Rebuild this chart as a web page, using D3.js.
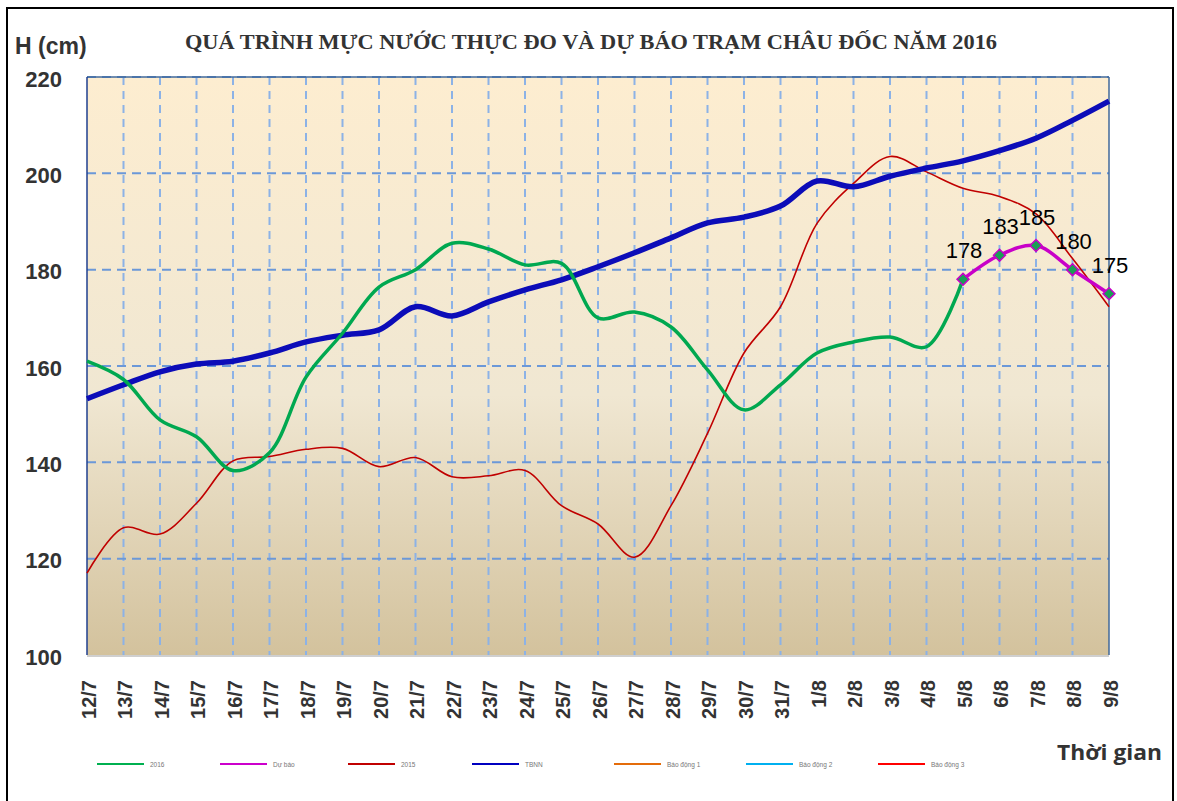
<!DOCTYPE html>
<html>
<head>
<meta charset="utf-8">
<script src="https://cdn.jsdelivr.net/npm/d3@7"></script>
<style>
  body { margin: 0; background: #fff; }
  svg { display: block; }
</style>
</head>
<body>
<div id="chart"></div>
<script>
// chart values
const days = ["12/7","13/7","14/7","15/7","16/7","17/7","18/7","19/7","20/7","21/7","22/7","23/7","24/7","25/7",
  "26/7","27/7","28/7","29/7","30/7","31/7","1/8","2/8","3/8","4/8","5/8","6/8","7/8","8/8","9/8"];

const level2016 = [161, 157.2, 148.8, 145.3, 138.3, 142, 157.7, 166.8, 176.4, 180, 185.5, 184.3, 181, 181.3,
  170, 171.2, 168.1, 159.2, 150.9, 156.1, 162.7, 165, 166, 164, 178];

const forecast = [178, 183, 185, 180, 175];   // 5/8 -> 9/8

const level2015 = [117, 126.4, 125.1, 131.5, 140.3, 141.2, 142.7, 142.9, 139.1, 141, 137, 137.2, 138.3, 131,
  127.2, 120.3, 131, 146, 162.7, 172.3, 189.6, 197.9, 203.5, 200.3, 196.9, 195.2, 191.6, 182.3, 172.3];

const tbnn = [153.2, 156.1, 158.8, 160.4, 161, 162.7, 165, 166.4, 167.5, 172.3, 170.4, 173.3, 175.8, 177.9,
  180.6, 183.5, 186.6, 189.7, 190.9, 193.2, 198.4, 197.2, 199.4, 201.1, 202.6, 204.7, 207.3, 211, 215];

const yTicks = [100, 120, 140, 160, 180, 200, 220];

const legendNames = ["2016", "Dự báo", "2015", "TBNN", "Báo động 1", "Báo động 2", "Báo động 3"];
const legendColors = ["#00b050", "#cc00cc", "#c00000", "#0000c0", "#e46c0a", "#00b0f0", "#ff0000"];

const W = 1177, H = 801;
const plot = { left: 87, right: 1109, top: 77, bottom: 655 };

const svg = d3.select("#chart").append("svg")
  .attr("width", W).attr("height", H);

// outer frame (no bottom edge, like the picture)
svg.append("path")
  .attr("d", `M7,801 V8 H1173 V801`)
  .attr("fill", "none").attr("stroke", "#000").attr("stroke-width", 2);

const x = d3.scalePoint().domain(days).range([plot.left, plot.right]);
const y = d3.scaleLinear().domain([100, 220]).range([plot.bottom, plot.top]);

// plot background gradient
const defs = svg.append("defs");
const grad = defs.append("linearGradient").attr("id", "bg")
  .attr("x1", 0).attr("y1", 0).attr("x2", 0).attr("y2", 1);
grad.append("stop").attr("offset", "0%").attr("stop-color", "#fdedd0");
grad.append("stop").attr("offset", "55%").attr("stop-color", "#f0e7d2");
grad.append("stop").attr("offset", "100%").attr("stop-color", "#d3c29d");

svg.append("rect")
  .attr("x", plot.left).attr("y", plot.top)
  .attr("width", plot.right - plot.left).attr("height", plot.bottom - plot.top)
  .attr("fill", "url(#bg)");

// grid lines
const g = svg.append("g");
g.selectAll(".vgrid").data(days.slice(1, -1)).enter().append("line")
  .attr("class", "vgrid")
  .attr("x1", d => x(d)).attr("x2", d => x(d))
  .attr("y1", plot.top).attr("y2", plot.bottom)
  .attr("stroke", "#8cb2e6").attr("stroke-width", 2)
  .attr("stroke-dasharray", "8,6");

g.selectAll(".hgrid").data(yTicks.slice(1)).enter().append("line")
  .attr("class", "hgrid")
  .attr("x1", plot.left).attr("x2", plot.right)
  .attr("y1", d => y(d)).attr("y2", d => y(d))
  .attr("stroke", "#6b98d8").attr("stroke-width", 2)
  .attr("stroke-dasharray", "9,6");

// plot border
svg.append("line").attr("x1", plot.left).attr("x2", plot.right).attr("y1", plot.top).attr("y2", plot.top)
  .attr("stroke", "#41689a").attr("stroke-width", 1.5);
svg.append("line").attr("x1", plot.right).attr("x2", plot.right).attr("y1", plot.top).attr("y2", plot.bottom)
  .attr("stroke", "#41689a").attr("stroke-width", 1.5);
svg.append("line").attr("x1", plot.left).attr("x2", plot.right).attr("y1", plot.bottom + 1).attr("y2", plot.bottom + 1)
  .attr("stroke", "#cfcfcf").attr("stroke-width", 2);
svg.append("line").attr("x1", plot.left).attr("x2", plot.left).attr("y1", plot.top).attr("y2", plot.bottom)
  .attr("stroke", "#1f3f8f").attr("stroke-width", 1.5);

// axes
const yAxis = d3.axisLeft(y).tickValues(yTicks).tickSize(0).tickPadding(0);
svg.append("g")
  .attr("transform", "translate(62,2)")
  .call(yAxis)
  .call(s => s.select(".domain").remove())
  .selectAll("text")
  .attr("font-family", "Liberation Sans, Arial, sans-serif")
  .attr("font-weight", "bold").attr("font-size", 22).attr("fill", "#333");

const xAxis = d3.axisBottom(x).tickSize(0).tickPadding(0);
svg.append("g")
  .attr("transform", `translate(0,${plot.bottom})`)
  .call(xAxis)
  .call(s => s.select(".domain").remove())
  .selectAll("text")
  .attr("font-family", "Liberation Sans, Arial, sans-serif")
  .attr("font-weight", "bold").attr("font-size", 20).attr("fill", "#333")
  .attr("text-anchor", "end")
  .attr("dy", "0.35em")
  .attr("transform", "translate(1,25) rotate(-90)");

// series
const line = d3.line()
  .x(d => x(d.day)).y(d => y(d.v))
  .curve(d3.curveCatmullRom.alpha(0.5));

const toPts = (vals, offset) => vals.map((v, i) => ({ day: days[i + offset], v: v }));

svg.append("path").datum(toPts(level2015, 0))
  .attr("d", line).attr("fill", "none")
  .attr("stroke", "#c00000").attr("stroke-width", 1.6);

svg.append("path").datum(toPts(tbnn, 0))
  .attr("d", line).attr("fill", "none")
  .attr("stroke", "#0c0cb8").attr("stroke-width", 5.5).attr("stroke-linejoin", "round");

svg.append("path").datum(toPts(level2016, 0))
  .attr("d", line).attr("fill", "none")
  .attr("stroke", "#00a850").attr("stroke-width", 3.5);

const fcPts = toPts(forecast, 24);
svg.append("path").datum(fcPts)
  .attr("d", line).attr("fill", "none")
  .attr("stroke", "#c800c8").attr("stroke-width", 3.5);

const diamond = d3.symbol().type(d3.symbolDiamond2).size(90);
svg.selectAll(".mk").data(fcPts).enter().append("path")
  .attr("class", "mk")
  .attr("transform", d => `translate(${x(d.day)},${y(d.v)})`)
  .attr("d", diamond)
  .attr("fill", "#1a9f55").attr("stroke", "#c800c8").attr("stroke-width", 1.5);

svg.selectAll(".lbl").data(fcPts).enter().append("text")
  .attr("class", "lbl")
  .attr("x", d => x(d.day) + 1).attr("y", d => y(d.v) - 21)
  .attr("text-anchor", "middle")
  .attr("font-family", "Liberation Sans, Arial, sans-serif")
  .attr("font-size", 22).attr("fill", "#000")
  .text(d => d.v);

// titles
svg.append("text")
  .attr("x", 591).attr("y", 49)
  .attr("text-anchor", "middle")
  .attr("font-family", "Liberation Serif, Times New Roman, serif")
  .attr("font-weight", "bold").attr("font-size", 21).attr("fill", "#333")
  .attr("textLength", 812).attr("lengthAdjust", "spacingAndGlyphs")
  .text("QUÁ TRÌNH MỰC NƯỚC THỰC ĐO VÀ DỰ BÁO TRẠM CHÂU ĐỐC  NĂM 2016");

svg.append("text")
  .attr("x", 15).attr("y", 54)
  .attr("font-family", "Liberation Sans, Arial, sans-serif")
  .attr("font-weight", "bold").attr("font-size", 23).attr("fill", "#333")
  .text("H (cm)");

svg.append("text")
  .attr("x", 1162).attr("y", 760)
  .attr("text-anchor", "end")
  .attr("font-family", "Open Sans, Noto Sans, sans-serif")
  .attr("font-weight", "bold").attr("font-size", 22).attr("fill", "#333")
  .attr("textLength", 105).attr("lengthAdjust", "spacingAndGlyphs")
  .text("Thời gian");

// legend
const legX = [97, 220, 348, 472, 614, 746, 878];
const leg = svg.selectAll(".leg").data(legendNames).enter().append("g")
  .attr("class", "leg")
  .attr("transform", (d, i) => `translate(${legX[i]},764)`);
leg.append("line")
  .attr("x1", 0).attr("x2", 47).attr("y1", 0).attr("y2", 0)
  .attr("stroke", (d, i) => legendColors[i]).attr("stroke-width", 2);
leg.append("text")
  .attr("x", 53).attr("y", 2.5)
  .attr("font-family", "Liberation Sans, Arial, sans-serif")
  .attr("font-size", 6.5).attr("fill", "#777")
  .text(d => d);
</script>
</body>
</html>
